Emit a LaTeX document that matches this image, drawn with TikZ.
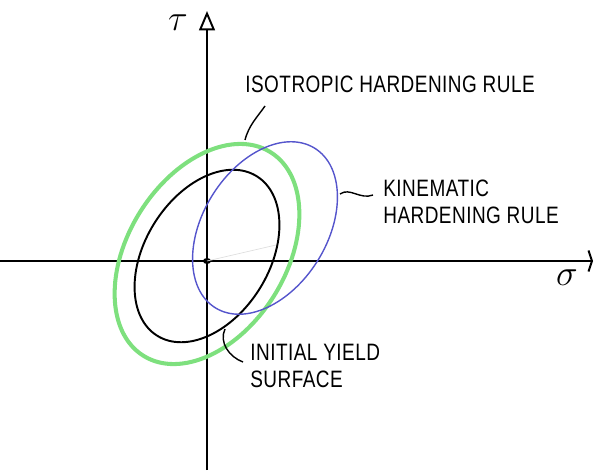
\documentclass[tikz,border=0pt]{standalone}
\usepackage{amsmath,amssymb}
\usepackage{fontspec}
\setmainfont{Liberation Sans}
\newfontfamily\handfont[FakeStretch=0.8,LetterSpace=2]{Liberation Sans}
\usetikzlibrary{arrows.meta}

\definecolor{isogreen}{HTML}{7EE07E}
\definecolor{kinblue}{HTML}{5555CC}

\tikzset{
  label text/.style={font=\handfont\fontsize{13.5}{15}\selectfont, align=left, inner sep=0pt, anchor=west},
  leader/.style={line width=0.8pt},
}

\begin{document}
\begin{tikzpicture}[x=0.02cm,y=0.02cm]
\useasboundingbox (-207,-209) rectangle (388,261);

% Axes
\coordinate (O) at (0,0);
\coordinate (sl) at (-207,0);
\coordinate (sr) at (386,0);
\coordinate (tb) at (0,-209);
\coordinate (tt) at (0,250);
\draw[line width=1.1pt,-{Straight Barb[length=2pt,width=12pt]}] (sl)--(sr);
\draw[line width=1.1pt,-{Triangle[open,length=11pt,width=9pt]}] (tb)--(tt);
\node (tau) at (-29,238) {\huge$\tau$};
\node (sigma) at (360,-17) {\huge$\sigma$};
\fill (O) ellipse (4 and 3);
\draw[gray!25] (O)--(69,16);

% Yield surfaces
\draw[isogreen,line width=2.3pt] (0,7) ellipse[x radius=120, y radius=79, rotate=58];
\draw[line width=1.1pt] (0,5) ellipse[x radius=94, y radius=62, rotate=58];
\draw[kinblue,line width=0.8pt] (58,33) ellipse[x radius=94, y radius=62, rotate=58];

% Labels
\node[label text] (iso) at (38,177) {ISOTROPIC HARDENING RULE};
\node[label text] (kin) at (176,59) {KINEMATIC\\HARDENING RULE};
\node[label text] (ini) at (43,-105) {INITIAL YIELD\\SURFACE};

% Leaders
\coordinate (isoA) at (38,121);
\coordinate (isoB) at (58,155);
\coordinate (kinA) at (133,67);
\coordinate (kinB) at (166,66);
\coordinate (iniA) at (18,-68);
\coordinate (iniB) at (36,-101);
\draw[leader] (isoA) to[out=75,in=235] (isoB);
\draw[leader] (kinA) .. controls (143,74) and (153,61) .. (kinB);
\draw[leader] (iniA) to[out=245,in=160] (iniB);

\end{tikzpicture}
\end{document}
